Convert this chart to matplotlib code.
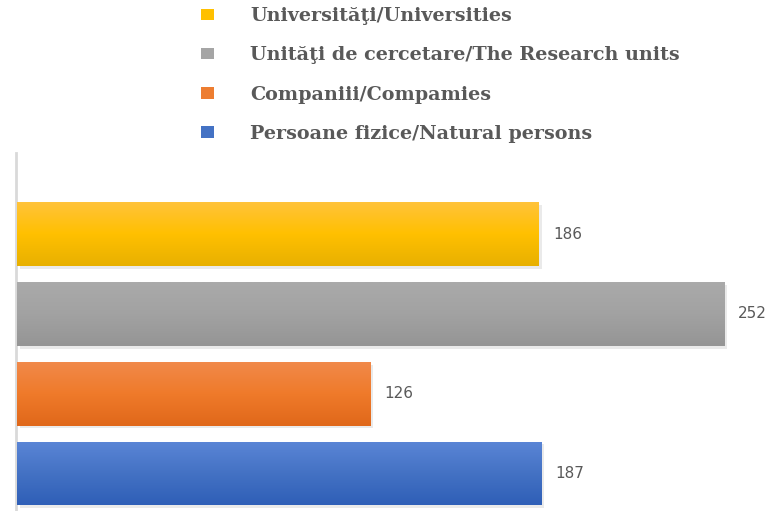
import matplotlib

matplotlib.use("Agg")
import matplotlib.pyplot as plt
import numpy as np
from matplotlib.colors import LinearSegmentedColormap
from matplotlib.patches import Patch
import matplotlib.patheffects as pe

# bottom -> top, as drawn
categories = ["Persoane fizice/Natural persons", "Companiii/Compamies",
              "Unităţi de cercetare/The Research units", "Universităţi/Universities"]
values = [187, 126, 252, 186]
# (top, middle, bottom) of each bar's gradient
gradients = [("#5a85d6", "#4472c4", "#2f5fb7"),
             ("#f1894a", "#ef7a2a", "#e0681a"),
             ("#aaaaaa", "#a2a2a2", "#959595"),
             ("#ffc33a", "#ffc000", "#e8b000")]
solid = ["#4472c4", "#ed7d31", "#a5a5a5", "#ffc000"]

W, H = 771, 511
fig = plt.figure(figsize=(W / 100, H / 100), dpi=100)
ax = fig.add_axes([17 / W, 0, (W - 17) / W, 358 / H])

y = np.arange(len(values))
bars = ax.barh(y, values, height=0.8, color=solid, zorder=2)

grad = np.linspace(0, 1, 64).reshape(-1, 1)
for bar, cols in zip(bars, gradients):
    bar.set_path_effects([pe.SimplePatchShadow(offset=(2, -2), shadow_rgbFace="#cccccc", alpha=0.4),
                          pe.Normal()])
    cmap = LinearSegmentedColormap.from_list("g", list(cols)[::-1])
    x0, y0, w, h = bar.get_x(), bar.get_y(), bar.get_width(), bar.get_height()
    im = ax.imshow(grad, cmap=cmap, aspect="auto", origin="lower",
                   extent=[x0, x0 + w, y0, y0 + h], zorder=3)
    im.set_clip_path(bar)

for yi, v in zip(y, values):
    ax.text(v + 5, yi, str(v), va="center", ha="left", fontsize=11,
            color="#595959", family="DejaVu Sans")

ax.set_xlim(0, (W - 17) / 2.806)
ax.set_ylim(-0.47, 4.015)
ax.set_xticks([])
ax.set_yticks([])
for s in ["top", "right", "bottom"]:
    ax.spines[s].set_visible(False)
ax.spines["left"].set_color("#d9d9d9")
ax.spines["left"].set_linewidth(2)
ax.spines["left"].set_position(("outward", 1))

handles = [Patch(facecolor=c, edgecolor="none") for c in solid[::-1]]
fig.legend(handles, categories[::-1], loc="upper left",
           bbox_to_anchor=(188 / W, 1 + 6 / H), frameon=False,
           handlelength=0.68, handleheight=0.55, handletextpad=1.85,
           labelspacing=1.1, borderpad=0.2,
           prop={"family": "DejaVu Serif", "weight": "bold", "size": 13.8},
           labelcolor="#595959")

fig.savefig("out.png", dpi=100)
